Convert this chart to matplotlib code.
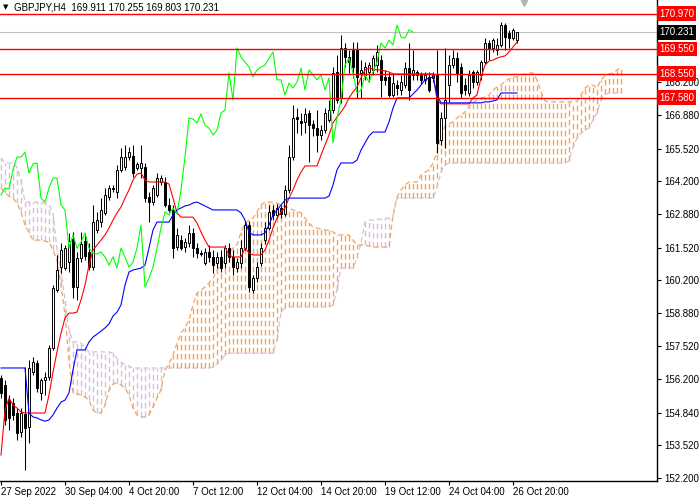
import matplotlib
matplotlib.use("Agg")
import matplotlib.pyplot as plt

plt.rcParams['font.family'] = ['Liberation Sans', 'DejaVu Sans']
plt.rcParams['font.size'] = 7

simbolo = "GBPJPY,H4"

# velas H4 (apertura, maximo, minimo, cierre)
aperturas = [156.25, 155.96, 155.35, 155.23, 154.83, 154.06, 154.79, 154.26, 156.49, 156.85,
             155.64, 156.16, 156.29, 157.46, 159.80, 160.73, 160.69, 160.93, 161.86, 159.92,
             161.10, 161.78, 161.34, 160.73, 162.23, 162.55, 162.92, 163.56, 163.93, 163.77,
             164.66, 164.78, 165.18, 165.22, 164.74, 164.74, 164.78, 163.56, 163.36, 163.64,
             164.17, 164.17, 163.24, 163.04, 161.54, 161.82, 161.54, 161.70, 162.11, 161.50,
             161.30, 160.89, 161.34, 161.14, 160.89, 161.14, 160.89, 161.50, 161.14, 160.69,
             160.89, 161.50, 162.43, 159.80, 160.29, 160.89, 161.82, 162.31, 163.04, 162.84,
             163.12, 162.88, 163.85, 165.18, 166.80, 166.64, 166.60, 166.96, 166.52, 166.35,
             166.07, 166.27, 166.68, 167.08, 168.62, 167.57, 169.59, 169.23, 169.51, 169.51,
             168.58, 168.50, 168.62, 168.70, 168.90, 169.10, 168.42, 168.42, 167.69, 168.09,
             167.89, 168.09, 168.78, 168.50, 168.62, 168.50, 168.30, 168.42, 168.50, 168.50,
             165.87, 166.76, 168.09, 168.90, 169.18, 168.82, 168.09, 167.77, 168.62, 168.21,
             168.50, 169.02, 169.79, 169.59, 169.51, 169.71, 170.52, 170.20, 169.99, 169.911]
maximos = [156.37, 156.16, 155.56, 155.44, 155.03, 155.03, 156.69, 156.97, 157.09, 156.97,
           156.25, 156.49, 157.58, 160.00, 161.22, 161.70, 161.62, 162.11, 162.15, 161.34,
           162.15, 162.11, 161.70, 163.24, 162.96, 163.52, 163.93, 164.05, 164.05, 164.86,
           165.55, 165.67, 165.59, 165.67, 164.98, 165.67, 164.94, 163.77, 164.05, 164.53,
           164.45, 164.37, 163.52, 163.24, 162.31, 162.03, 161.91, 162.43, 162.31, 161.70,
           161.42, 161.50, 161.62, 161.42, 161.34, 161.42, 161.62, 161.70, 161.42, 161.10,
           161.82, 162.59, 162.59, 160.41, 160.93, 161.70, 162.55, 163.24, 163.24, 163.28,
           163.24, 164.05, 165.67, 167.29, 167.16, 166.96, 167.16, 167.08, 166.68, 167.08,
           166.47, 167.16, 167.49, 168.82, 169.31, 170.11, 169.79, 169.51, 169.83, 169.83,
           169.10, 169.02, 169.02, 169.31, 169.71, 169.31, 168.70, 168.62, 168.58, 168.30,
           168.50, 169.02, 169.79, 169.51, 168.70, 168.62, 168.62, 168.62, 168.62, 169.51,
           167.00, 169.59, 169.31, 169.51, 169.43, 168.98, 168.38, 168.70, 168.70, 168.70,
           169.10, 169.99, 169.91, 169.99, 169.99, 170.64, 170.60, 170.32, 170.40, 170.255]
minimos = [155.44, 154.34, 154.14, 154.55, 153.74, 153.86, 152.52, 153.62, 156.37, 155.68,
           155.35, 155.56, 156.16, 157.38, 159.72, 160.49, 160.61, 160.53, 159.48, 159.40,
           160.93, 161.02, 160.61, 160.61, 162.11, 162.35, 162.84, 163.44, 163.77, 163.52,
           164.57, 164.66, 165.06, 164.37, 164.66, 164.33, 163.36, 162.55, 163.24, 163.56,
           164.05, 163.16, 162.96, 161.10, 161.42, 161.42, 161.34, 161.54, 161.14, 161.10,
           161.18, 160.81, 160.93, 160.49, 160.69, 160.53, 160.69, 160.93, 160.41, 160.53,
           160.69, 161.42, 159.72, 159.68, 160.13, 160.77, 161.66, 162.23, 162.63, 162.71,
           162.71, 162.80, 163.73, 165.06, 166.15, 166.07, 166.15, 164.98, 166.03, 165.38,
           165.87, 166.15, 166.60, 166.96, 167.37, 167.37, 168.82, 168.58, 168.38, 167.57,
           167.57, 168.30, 168.21, 168.50, 168.62, 167.61, 168.09, 167.61, 167.61, 167.69,
           167.69, 167.97, 167.49, 168.30, 168.30, 168.13, 168.13, 167.81, 168.21, 165.34,
           165.67, 165.55, 167.41, 168.78, 168.21, 167.57, 167.69, 167.65, 167.97, 168.09,
           168.30, 168.94, 169.10, 169.43, 169.31, 169.63, 169.51, 169.59, 169.91, 169.803]
cierres = [155.64, 154.55, 154.63, 154.75, 154.02, 154.83, 154.22, 156.65, 156.89, 155.84,
           156.16, 156.29, 157.46, 159.88, 160.61, 161.42, 161.50, 161.78, 159.92, 161.10,
           161.66, 161.18, 160.73, 162.55, 162.63, 163.04, 163.64, 163.93, 163.89, 164.66,
           165.18, 165.18, 165.38, 164.53, 164.90, 164.94, 163.52, 163.36, 163.93, 164.33,
           164.33, 163.24, 163.04, 161.50, 162.03, 161.50, 161.74, 162.11, 161.50, 161.30,
           161.26, 161.34, 161.14, 160.81, 161.14, 160.69, 161.50, 161.14, 160.73, 160.93,
           161.50, 162.43, 159.92, 160.29, 160.73, 161.50, 162.31, 162.96, 162.84, 163.12,
           162.88, 163.85, 165.18, 166.76, 166.72, 166.56, 166.92, 166.47, 166.35, 166.07,
           166.27, 166.96, 167.08, 168.58, 167.49, 169.59, 169.23, 169.02, 168.82, 168.42,
           168.70, 168.82, 168.90, 169.18, 169.43, 168.30, 168.30, 167.69, 168.17, 167.97,
           168.21, 168.78, 167.89, 168.70, 168.50, 168.30, 168.50, 167.89, 168.38, 165.75,
           166.76, 167.49, 168.90, 169.18, 168.58, 167.77, 167.89, 168.50, 168.21, 168.62,
           169.02, 169.79, 169.59, 169.91, 169.71, 170.52, 170.03, 169.99, 170.32, 170.231]

# ichimoku
tenkan = ([153.13, 154.95, 155.44, 155.15, 155.03, 154.87, 154.83] + [154.83] * 5 +
          [155.56, 156.49, 157.30, 158.06, 158.67, 158.87, 158.87, 158.91, 159.40, 160.00,
           160.81, 161.42, 161.62, 161.82, 162.03, 162.31, 162.63, 162.92, 163.16, 163.52,
           163.85, 164.25, 164.49, 164.53] +
          [164.25, 164.17] + [164.17] * 4 + [164.09, 163.52, 162.92] + [162.75] * 4 +
          [162.51, 162.15, 161.82] + [161.54] * 5 + [161.22] + [161.14] * 3 +
          [161.50, 161.30] + [161.22] * 3 +
          [161.42, 161.82, 162.31, 162.71, 162.96, 163.12, 163.52, 163.85, 164.25, 164.57] +
          [164.82] * 4 +
          [165.26, 165.67, 166.07, 166.56, 166.80, 167.00, 167.24, 167.57, 167.81, 168.01,
           168.38, 168.70, 168.78, 168.74, 168.70, 168.70, 168.66, 168.62] +
          [168.54] * 11 + [167.49] + [167.33] * 8 +
          [167.57, 167.69, 168.38, 168.90, 169.06, 169.10, 169.18, 169.23, 169.27, 169.43,
           169.63, 169.83])
kijun = ([156.65] * 7 +
         [154.83, 154.67, 154.63, 154.55, 154.50, 154.55, 154.75, 155.03, 155.27, 155.35,
          155.64, 156.57, 157.38, 157.38, 157.38, 157.70, 157.90, 158.02, 158.14, 158.27,
          158.43, 158.75, 158.91, 159.20, 160.00, 160.53, 160.61, 160.65, 160.69, 160.81,
          161.50, 162.23] +
         [162.55] * 4 +
         [162.84, 163.04, 163.12, 163.20, 163.24, 163.32, 163.36, 163.28, 163.20, 163.12] +
         [163.04] * 7 + [162.92, 162.63, 162.15] + [162.03] * 3 +
         [162.11, 162.43, 162.84, 163.04, 163.24, 163.44] + [163.52] * 10 +
         [163.60, 164.05, 164.66] + [164.94] * 4 + [165.06, 165.46, 165.75, 166.03] +
         [166.19] * 4 + [166.60, 167.16] + [167.57] * 4 +
         [167.73, 167.89, 168.09, 168.30, 168.38, 168.42, 167.69] + [167.37] * 11 +
         [167.41, 167.41, 167.45, 167.49] + [167.77] * 5)
senkou_a = ([163.93, 163.73, 163.60, 163.52, 163.32, 162.96, 162.43, 162.11, 161.82, 161.82,
             161.82, 161.78, 161.74, 161.42, 161.02, 160.00, 158.79, 156.97, 155.64, 155.60,
             155.56, 155.48, 155.35, 154.95, 154.83, 154.83, 155.15, 155.76, 156.00, 156.04,
             155.96, 155.84, 155.56, 155.03, 154.75, 154.67, 154.67, 154.75, 155.07, 155.44,
             155.76, 156.57, 156.81, 157.17, 157.66, 158.06, 158.27, 158.59, 159.20,
             159.68, 159.80, 159.92, 160.09, 160.29, 160.61, 160.81, 161.02, 161.34, 161.50,
             161.62, 162.15, 162.51, 162.63, 162.71, 162.96, 163.24, 163.36, 163.36, 163.36,
             163.32, 163.24, 163.16, 163.12, 163.04, 163.00, 162.92, 162.71, 162.51, 162.35,
             162.31, 162.27, 162.23, 162.23, 162.15] + [162.03] * 4 +
            [161.82, 161.62, 161.62, 161.62, 161.58, 161.54, 161.54, 161.54, 161.54, 161.54,
             162.84, 163.56, 163.85, 164.05, 164.17, 164.17, 164.17, 164.45, 164.57, 164.66,
             164.94, 165.38, 166.07, 166.43, 166.52, 166.60, 166.76, 166.88, 167.00, 167.24,
             167.37, 167.49, 167.57, 167.61, 167.69, 167.89, 168.01, 168.09, 168.25, 168.34,
             168.42, 168.42, 168.50, 168.54, 168.58, 168.58, 168.30, 167.81, 167.45] +
            [167.41] * 7 +
            [167.45, 167.69, 167.97, 168.09, 168.09, 167.97, 168.30, 168.46, 168.54, 168.58,
             168.70, 168.82])
senkou_b = ([165.14, 164.94, 164.94, 164.94, 164.78, 164.25, 163.36, 163.36, 163.36, 163.36,
             163.36, 163.32, 163.24, 162.92, 161.42, 160.61, 159.40, 158.18, 157.70, 157.70,
             157.66, 157.46, 157.30, 157.30, 157.30, 157.30, 157.30, 157.30, 157.25, 157.05,
             156.89, 156.77, 156.73] + [156.65] * 20 +
            [156.69, 156.81, 156.97, 157.17, 157.25] + [157.25] * 11 +
            [157.78, 158.91, 159.07, 159.12] + [159.12] * 10 + [159.20, 159.80] +
            [160.69] * 4 +
            [161.10, 161.70, 162.55, 162.63, 162.63, 162.67, 162.67, 162.71, 162.71, 162.80] +
            [163.52] * 10 + [163.97, 164.57, 164.86] + [164.94] * 30 +
            [165.02, 165.59, 165.95, 166.15, 166.27, 166.35, 166.68, 166.96, 167.49, 167.73] +
            [167.77] * 4)
desplazamiento_chikou = 26

niveles = [170.970, 169.550, 168.550, 167.580]
precio_bid = 170.231

ticks_precio = [152.200, 153.520, 154.840, 156.200, 157.520, 158.880, 160.200,
                161.520, 162.880, 164.200, 165.520, 166.880, 168.200]
ticks_barras = [0, 16, 32, 48, 64, 80, 96, 112, 128]
etiquetas_fecha = ["27 Sep 2022", "30 Sep 04:00", "4 Oct 20:00", "7 Oct 12:00",
                   "12 Oct 04:00", "14 Oct 20:00", "19 Oct 12:00", "24 Oct 04:00",
                   "26 Oct 20:00"]

naranja = '#F4A460'
cardo = '#D8BFD8'
trazo = (0, (4, 2.5))

fig = plt.figure(figsize=(7, 5), dpi=100)
ax = fig.add_axes([0, 19 / 500, 657 / 700, 481 / 500])

# nube (histograma entre senkou A y B), un color por tramo
x_nar = [i for i, (a, b) in enumerate(zip(senkou_a, senkou_b)) if a >= b]
x_car = [i for i, (a, b) in enumerate(zip(senkou_a, senkou_b)) if a < b]
ax.vlines(x_nar, [senkou_b[i] for i in x_nar], [senkou_a[i] for i in x_nar],
          color=naranja, lw=1.0, linestyles=trazo, zorder=1)
ax.vlines(x_car, [senkou_a[i] for i in x_car], [senkou_b[i] for i in x_car],
          color=cardo, lw=1.0, linestyles=trazo, zorder=1)
x_nube = list(range(len(senkou_a)))
ax.plot(x_nube, senkou_a, color=naranja, lw=0.9, ls=trazo, zorder=1)
ax.plot(x_nube, senkou_b, color=cardo, lw=0.9, ls=trazo, zorder=1)

ax.axhline(precio_bid, color='#C0C0C0', lw=0.8, zorder=1.5)

# velas
idx = list(range(len(cierres)))
ax.vlines(idx, minimos, maximos, color='black', lw=0.75, zorder=3)
base = [min(o, c) for o, c in zip(aperturas, cierres)]
alto = [max(abs(c - o), 0.005) for o, c in zip(aperturas, cierres)]
relleno = ['white' if c >= o else 'black' for o, c in zip(aperturas, cierres)]
ax.bar(idx, alto, bottom=base, width=0.5, color=relleno, edgecolor='black', lw=0.7, zorder=4)

# lineas ichimoku
ax.plot(idx, tenkan, color='#FF0000', lw=0.8, zorder=5)
ax.plot(idx, kijun, color='#0000FF', lw=0.8, zorder=5)
n_chikou = len(cierres) - desplazamiento_chikou
ax.plot(idx[:n_chikou], cierres[desplazamiento_chikou:], color='#00FF00', lw=0.8, zorder=5)

for nivel in niveles:
    ax.axhline(nivel, color='#FF0000', lw=1.0, zorder=6)

ax.set_xlim(-0.25, 164)
ax.set_ylim(152.08, 171.53)

# ejes
for lado in ['left', 'top']:
    ax.spines[lado].set_visible(False)
ax.spines['right'].set_linewidth(1.0)
ax.spines['bottom'].set_linewidth(1.0)
ax.yaxis.tick_right()
ax.set_yticks(ticks_precio, [f"{v:.3f}" for v in ticks_precio])
ax.tick_params(axis='y', length=3, width=0.8, pad=2, labelsize=7)
ax.set_xticks(ticks_barras, etiquetas_fecha)
ax.tick_params(axis='x', length=3, width=0.8, pad=1, labelsize=7)
for lab in ax.get_xticklabels():
    lab.set_horizontalalignment('left')

trans = ax.get_yaxis_transform()
for nivel in niveles:
    ax.text(1.003, nivel, f"{nivel:.3f}", transform=trans, ha='left', va='center',
            color='white', fontsize=7, zorder=10, clip_on=False,
            bbox=dict(boxstyle='square,pad=0.25', fc='#FF0000', ec='none'))
ax.text(1.003, precio_bid, f"{precio_bid:.3f}", transform=trans, ha='left', va='center',
        color='white', fontsize=7, zorder=10, clip_on=False,
        bbox=dict(boxstyle='square,pad=0.25', fc='black', ec='none'))

# cabecera
cabecera = f"{simbolo}  {aperturas[-1]:.3f} {maximos[-1]:.3f} {minimos[-1]:.3f} {cierres[-1]:.3f}"
ax.text(0.004, 0.985, "\u25BC", transform=ax.transAxes, fontsize=5, va='center', ha='left',
        family=['DejaVu Sans'])
ax.text(0.022, 0.985, cabecera, transform=ax.transAxes, fontsize=7, va='center', ha='left')
ax.plot([0.798], [0.996], marker='v', color='#B4B4B4', ms=6, transform=ax.transAxes,
        clip_on=False, zorder=10)

fig.savefig('out.png', dpi=100)
